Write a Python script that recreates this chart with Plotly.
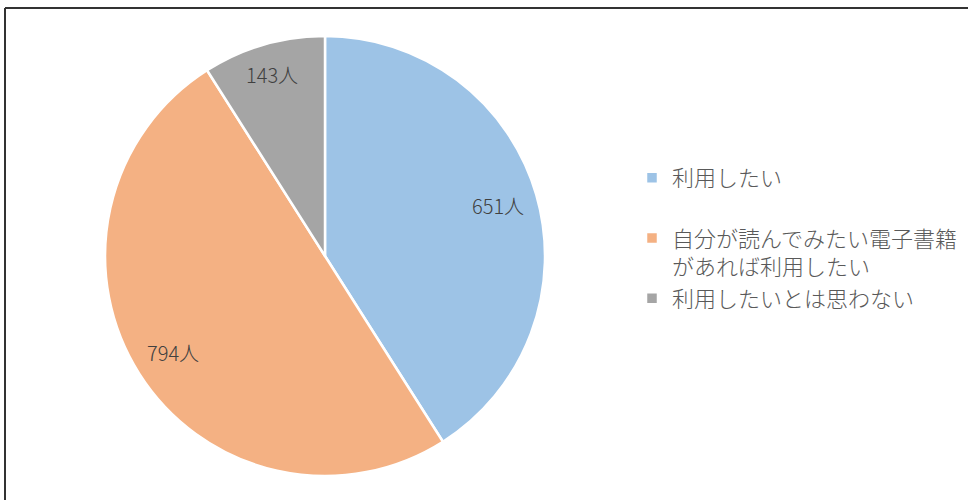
import math
import plotly.graph_objects as go

labels = ["利用したい<br> ", "自分が読んでみたい電子書籍<br>があれば利用したい", "利用したいとは思わない"]
values = [651, 794, 143]
value_text = [f"{v}人" for v in values]
colors = ["#9DC3E6", "#F4B183", "#A5A5A5"]

W, H = 968, 500
cx, cy, r = 325, 256, 220
label_frac = 0.82

fig = go.Figure(go.Pie(
    labels=labels,
    values=values,
    textinfo="none",
    sort=False,
    direction="clockwise",
    rotation=0,
    marker=dict(colors=colors, line=dict(color="white", width=2.5)),
    domain=dict(x=[(cx - r) / W, (cx + r) / W], y=[(H - cy - r) / H, (H - cy + r) / H]),
    hoverinfo="label+value",
))

# data labels placed at the middle angle of each slice, derived from the values
total = sum(values)
annotations = []
cum = 0
for v, t in zip(values, value_text):
    mid = (cum + v / 2) / total * 2 * math.pi
    cum += v
    frac = label_frac + (0.04 if v / total < 0.15 else 0)
    px = cx + frac * r * math.sin(mid)
    py = cy - frac * r * math.cos(mid)
    annotations.append(dict(
        x=px / W, y=(H - py) / H, xref="paper", yref="paper",
        text=t, showarrow=False, xanchor="center", yanchor="middle",
        font=dict(family="Noto Sans CJK JP", size=20, color="#404040", weight=300),
    ))

fig.update_layout(
    width=W, height=H,
    margin=dict(l=0, r=0, t=0, b=0),
    paper_bgcolor="white",
    font=dict(family="Noto Sans CJK JP", color="#595959"),
    legend=dict(
        x=632 / W, xanchor="left",
        y=(H - 157) / H, yanchor="top",
        valign="top",
        font=dict(family="Noto Sans CJK JP", size=22, color="#595959", weight=300),
        itemwidth=30,
        bgcolor="rgba(0,0,0,0)",
    ),
    annotations=annotations,
    shapes=[
        dict(type="line", xref="paper", yref="paper", x0=5 / W, x1=1, y0=(H - 8) / H, y1=(H - 8) / H,
             line=dict(color="#333333", width=2)),
        dict(type="line", xref="paper", yref="paper", x0=5 / W, x1=5 / W, y0=0, y1=(H - 8) / H,
             line=dict(color="#333333", width=2)),
    ],
)

fig.write_html("out.html", config={"displayModeBar": False},
               post_script="document.body.style.margin='0px';")
